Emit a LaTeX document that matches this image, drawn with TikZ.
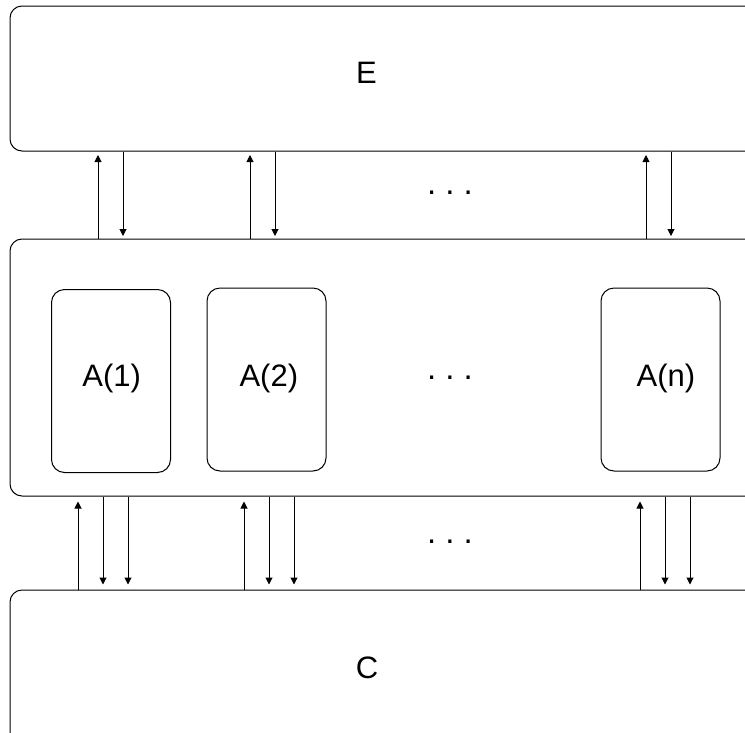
\documentclass[tikz,border=0pt]{standalone}
\usepackage{fontspec}
\setmainfont{Liberation Sans}
\usetikzlibrary{arrows.meta}

\begin{document}
\begin{tikzpicture}[x=1pt,y=-1pt,line width=1pt,
    bigbox/.style={draw,rounded corners=12pt,inner sep=0pt},
    unitbox/.style={draw,rounded corners=13pt,inner sep=0pt,
      minimum width=119pt,minimum height=183pt},
    lbl/.style={inner sep=0pt,font=\fontsize{31}{34}\selectfont},
    dots/.style={font=\fontsize{33}{35}\selectfont,anchor=base},
    uparrow/.style={-{Triangle[width=7pt,length=7pt]}},
    dnarrow/.style={-{Triangle[width=7pt,length=7pt]}}]
  \clip (0,0) rectangle (745,732);
  % outer boxes
  \node[bigbox,minimum width=780pt,minimum height=145pt] (E) at (400,78.5) {};
  \node[bigbox,minimum width=780pt,minimum height=257pt] (M) at (400,367.5) {};
  \node[bigbox,minimum width=780pt,minimum height=160pt] (C) at (400,670) {};
  \node[lbl] (eTxt) at (366.5,73) {E};
  \node[lbl] (cTxt) at (367,668) {C};
  % units
  \node[unitbox] (A1) at (111,381) {};
  \node[unitbox] (A2) at (266.5,379.5) {};
  \node[unitbox] (An) at (660.5,379.5) {};
  \node[lbl] (a1Txt) at (111.7,378) {A(1)};
  \node[lbl] (a2Txt) at (268.8,378) {A(2)};
  \node[lbl] (anTxt) at (666,378) {A(n)};
  \node[dots] (dTop) at (450,194) {.\ .\ .};
  \node[dots] (dMid) at (450,379) {.\ .\ .};
  \node[dots] (dBot) at (450,543) {.\ .\ .};
  % E <-> M
  \foreach \u in {98,250,646} {
    \coordinate (xu\u) at (\u,0);
    \coordinate (xd\u) at (\u+25,0);
    \draw[uparrow,shorten >=3.5pt] (M.north -| xu\u) -- (E.south -| xu\u);
    \draw[dnarrow,shorten >=2.5pt] (E.south -| xd\u) -- (M.north -| xd\u);
  }
  % M <-> C
  \foreach \u in {78,244,640} {
    \coordinate (yu\u) at (\u,0);
    \coordinate (ya\u) at (\u+25,0);
    \coordinate (yb\u) at (\u+50,0);
    \draw[uparrow,shorten >=5pt] (C.north -| yu\u) -- (M.south -| yu\u);
    \draw[dnarrow,shorten >=5pt] (M.south -| ya\u) -- (C.north -| ya\u);
    \draw[dnarrow,shorten >=5pt] (M.south -| yb\u) -- (C.north -| yb\u);
  }
\end{tikzpicture}
\end{document}
